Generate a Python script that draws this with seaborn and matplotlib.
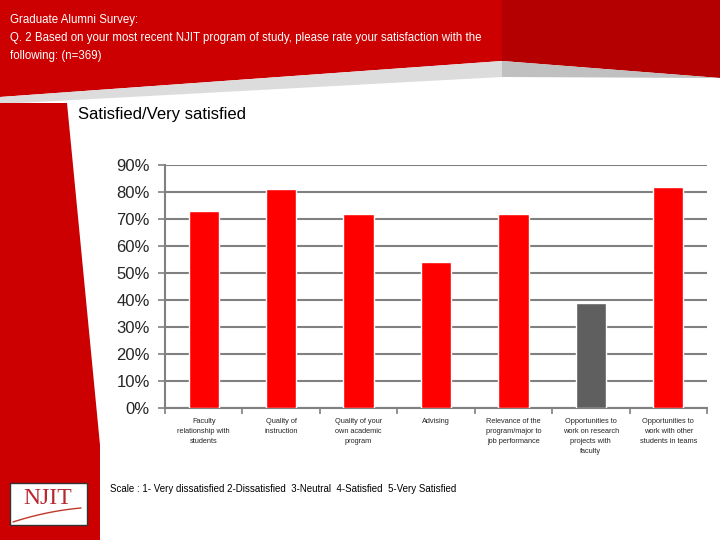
import matplotlib
matplotlib.use("Agg")
import matplotlib.pyplot as plt
from matplotlib.patches import Polygon, Rectangle
import numpy as np
import seaborn as sns

# data
categories = [
    "Faculty\nrelationship with\nstudents",
    "Quality of\ninstruction",
    "Quality of your\nown academic\nprogram",
    "Advising",
    "Relevance of the\nprogram/major to\njob performance",
    "Opportunities to\nwork on research\nprojects with\nfaculty",
    "Opportunities to\nwork with other\nstudents in teams",
]
satisfied = [0.73, 0.81, 0.72, 0.54, 0.72, 0.39, 0.82]
bar_colors = ["#ff0000", "#ff0000", "#ff0000", "#ff0000", "#ff0000", "#5f5f5f", "#ff0000"]
y_ticks = [0.0, 0.1, 0.2, 0.3, 0.4, 0.5, 0.6, 0.7, 0.8, 0.9]
y_labels = ["0%", "10%", "20%", "30%", "40%", "50%", "60%", "70%", "80%", "90%"]

header = ("Graduate Alumni Survey:\n"
          "Q. 2 Based on your most recent NJIT program of study, please rate your satisfaction with the\n"
          "following: (n=369)")
chart_title = "Satisfied/Very satisfied"
scale_note = "Scale : 1- Very dissatisfied 2-Dissatisfied  3-Neutral  4-Satisfied  5-Very Satisfied"

sns.set_theme(style="white")
plt.rcParams['font.family'] = ['Liberation Sans', 'DejaVu Sans']

fig = plt.figure(figsize=(7.2, 5.4), dpi=100)
fig.patch.set_facecolor("white")

# background slide decoration, in pixel coords
bg = fig.add_axes([0, 0, 1, 1], zorder=0)
bg.set_xlim(0, 720); bg.set_ylim(540, 0); bg.axis("off")
bg.add_patch(Polygon([(0, 0), (502, 0), (502, 61), (0, 97)], closed=True, color="#cc0000", lw=0))
bg.add_patch(Polygon([(502, 0), (720, 0), (720, 78), (502, 61)], closed=True, color="#b40000", lw=0))
bg.add_patch(Polygon([(0, 97), (502, 61), (502, 77), (0, 104)], closed=True, color="#dcdcdc", lw=0))
bg.add_patch(Polygon([(502, 61), (720, 78), (502, 77)], closed=True, color="#c0c0c0", lw=0))
bg.add_patch(Polygon([(0, 103), (67, 103), (100, 445), (100, 540), (0, 540)], closed=True, color="#cc0000", lw=0))

# NJIT logo box
bg.add_patch(Rectangle((10, 483), 77, 42, facecolor="white", edgecolor="#333333", lw=1))
bg.text(48, 499, "NJIT", color="#b8282e", fontsize=17, family=['Liberation Serif', 'DejaVu Serif'],
        ha="center", va="center")
t = np.linspace(0, 1, 40)
bg.plot(13 + 68 * t, 522 - 22 * t + 8 * t ** 2, color="#c0392b", lw=1)

bg.text(10, 38, header, color="white", fontsize=8.3, va="center", ha="left", linespacing=1.7)
bg.text(78, 115, chart_title, color="black", fontsize=12, va="center", ha="left")
bg.text(110, 489, scale_note, color="black", fontsize=7, va="center", ha="left")

# the chart itself
ax = fig.add_axes([165 / 720, 1 - 408 / 540, 542 / 720, 243 / 540], zorder=1)
ax.patch.set_alpha(0)
sns.barplot(x=list(range(len(categories))), y=satisfied, hue=list(range(len(categories))),
            palette=bar_colors, width=0.39, saturation=1, legend=False, ax=ax, zorder=3)

ax.set_ylim(0, 0.9)
ax.set_xlim(-0.5, len(categories) - 0.5)
ax.set_yticks(y_ticks)
ax.set_yticklabels(y_labels, fontsize=12)
ax.yaxis.grid(True, color="#808080", lw=1.5, zorder=0)
ax.set_axisbelow(True)
ax.set_xticks(range(len(categories)))
ax.set_xticklabels(categories, fontsize=5.3, linespacing=1.62, va="top")
ax.set_xticks(np.arange(-0.5, len(categories), 1), minor=True)
ax.tick_params(axis="x", which="major", length=0, pad=7)
ax.tick_params(axis="x", which="minor", length=4, color="#808080", width=1.2, direction="out", bottom=True)
ax.tick_params(axis="y", length=5, color="#808080", width=1.2, direction="out", left=True, pad=6)
for side in ["top", "right"]:
    ax.spines[side].set_visible(False)
for side in ["left", "bottom"]:
    ax.spines[side].set_color("#808080")
    ax.spines[side].set_linewidth(1.5)
ax.set_xlabel(""); ax.set_ylabel("")

fig.savefig("out.png", dpi=100)
